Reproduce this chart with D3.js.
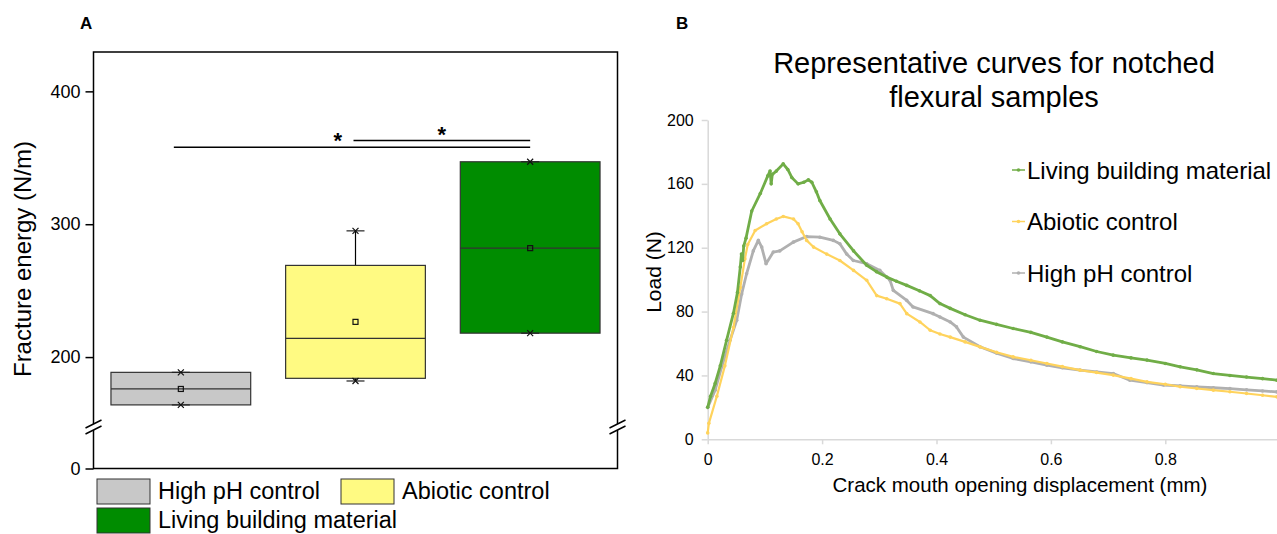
<!DOCTYPE html>
<html>
<head>
<meta charset="utf-8">
<script src="https://cdn.jsdelivr.net/npm/d3@7"></script>
<style>
  body { margin: 0; background: #fff; }
  svg text { font-family: 'Liberation Sans', Arial, sans-serif; }
</style>
</head>
<body>
<div id="chart"></div>
<script>
// ---- Panel A data: fracture energy box plots
var groups = ['High pH control', 'Abiotic control', 'Living building material'];
var boxColors = ['#c8c8c8', '#fffa82', '#008c00'];
var boxQ1 = [164, 184, 218];
var boxMedian = [176, 214, 282];
var boxQ3 = [188.5, 269, 347];
var boxMin = [164, 182, 218];
var boxMax = [188.5, 295, 347];
var boxMean = [176, 226.5, 282];
var yTicksA = [0, 200, 300, 400];
// significance brackets (group index from -> to, level in N/m)
var sigFrom = [0, 1];
var sigTo = [2, 2];
var sigLevel = [358, 363];
var sigStarAt = [0.46, 0.5];

// ---- Panel B data: load vs crack mouth opening displacement
var seriesNames = ['Living building material', 'Abiotic control', 'High pH control'];
var seriesColors = ['#70ad47', '#ffd35c', '#b0b0b0'];
var livingX = [0, 0.005, 0.013, 0.022, 0.033, 0.045, 0.052, 0.057, 0.059, 0.061, 0.063, 0.067, 0.077, 0.092, 0.105, 0.109, 0.111, 0.113, 0.12, 0.132, 0.14, 0.147, 0.158, 0.168, 0.176, 0.182, 0.19, 0.196, 0.214, 0.231, 0.255, 0.278, 0.295, 0.313, 0.33, 0.348, 0.37, 0.389, 0.406, 0.424, 0.45, 0.476, 0.505, 0.534, 0.565, 0.593, 0.62, 0.651, 0.68, 0.709, 0.74, 0.768, 0.8, 0.826, 0.855, 0.884, 0.913, 0.942, 0.97, 0.995];
var livingLoad = [20, 27, 35, 46, 62, 79, 92, 108, 116, 112, 121, 126, 143, 154, 165, 168, 160, 166, 168, 172.5, 169, 164, 160, 161, 162.5, 161, 155, 149.6, 138, 128.7, 118, 109, 105, 101.6, 99, 96.4, 93, 90, 85, 82, 78, 74.6, 72, 69.4, 67, 64, 61, 58, 55, 52.7, 51, 49.6, 47.5, 45.4, 43.5, 41.2, 40, 39, 38, 37];
var abioticX = [0, 0.002, 0.016, 0.03, 0.045, 0.057, 0.065, 0.07, 0.083, 0.103, 0.12, 0.132, 0.15, 0.158, 0.165, 0.173, 0.185, 0.208, 0.231, 0.255, 0.278, 0.2955, 0.313, 0.336, 0.348, 0.371, 0.389, 0.406, 0.424, 0.45, 0.476, 0.505, 0.534, 0.565, 0.593, 0.62, 0.651, 0.68, 0.709, 0.74, 0.768, 0.8, 0.826, 0.855, 0.884, 0.913, 0.942, 0.97, 0.995];
var abioticLoad = [4, 10, 27, 46, 70, 95, 113, 122, 130.8, 135, 138, 139.6, 138, 135, 130, 124.6, 120.4, 116, 112, 105.8, 99.6, 90, 88, 85, 78.7, 73.5, 68.3, 66, 64, 61, 57.9, 54.5, 51.6, 49.5, 47.5, 45.5, 43.3, 41.8, 40.2, 38, 36, 34.5, 32.9, 31.8, 30.8, 29.8, 28.7, 27.6, 26.6];
var highPhX = [0, 0.013, 0.0245, 0.039, 0.0507, 0.0594, 0.068, 0.0797, 0.0885, 0.0944, 0.102, 0.1147, 0.126, 0.1497, 0.173, 0.196, 0.2196, 0.231, 0.243, 0.2546, 0.278, 0.301, 0.3187, 0.3245, 0.348, 0.359, 0.394, 0.406, 0.424, 0.435, 0.447, 0.476, 0.505, 0.534, 0.565, 0.593, 0.62, 0.651, 0.68, 0.709, 0.738, 0.768, 0.797, 0.826, 0.855, 0.884, 0.913, 0.942, 0.97, 0.995];
var highPhLoad = [20, 30.8, 45.4, 62, 74.6, 91, 103.7, 118, 124.6, 120.4, 110, 117.3, 118, 123.5, 127, 126.6, 124.6, 122.5, 116, 112, 110, 105.8, 99.6, 93.3, 87, 82.9, 78.7, 76.6, 73.5, 70.4, 64, 58, 54, 50.6, 48.5, 46.4, 44.8, 43.3, 42.2, 41.2, 37, 35.5, 34, 33.5, 32.9, 32.3, 31.8, 31, 30.3, 29.7];
var xTicksB = [0, 0.2, 0.4, 0.6, 0.8];
var yTicksB = [0, 40, 80, 120, 160, 200];

var W = 1277, H = 534;
var svg = d3.select('#chart').append('svg')
  .attr('width', W)
  .attr('height', H);
svg.append('rect').attr('width', W).attr('height', H).attr('fill', '#fff');

// ================= Panel A =================
var frameA = {left: 93.5, top: 52, right: 617.5, bottom: 468.5};

var xA = d3.scaleBand()
  .domain(d3.range(groups.length))
  .range([frameA.left, frameA.right])
  .paddingInner(0.2)
  .paddingOuter(0.1);
// broken axis: 0 sits below the break, 150..430 is linear
var yA = d3.scaleLinear()
  .domain([0, 150, 430])
  .range([frameA.bottom, 423.5, 51.5]);

svg.append('text')
  .attr('x', 80).attr('y', 29)
  .style('font-size', '17px').style('font-weight', 'bold')
  .text('A');

var gA = svg.append('g');

gA.append('rect')
  .attr('x', frameA.left).attr('y', frameA.top)
  .attr('width', frameA.right - frameA.left)
  .attr('height', frameA.bottom - frameA.top)
  .attr('fill', 'none').attr('stroke', '#000').attr('stroke-width', 1.5);

var axA = gA.append('g')
  .attr('transform', 'translate(' + frameA.left + ',0)')
  .call(d3.axisLeft(yA).tickValues(yTicksA).tickSize(8).tickSizeOuter(0).tickPadding(5));
axA.select('.domain').remove();
axA.selectAll('.tick line').attr('stroke', '#000').attr('stroke-width', 1.5);
axA.selectAll('.tick text').style('font-size', '18px').attr('fill', '#000');

// axis break marks on both sides
var breakY = 427;
[frameA.left, frameA.right].forEach(function(bx) {
  gA.append('rect')
    .attr('x', bx - 3).attr('y', breakY - 3)
    .attr('width', 6).attr('height', 6)
    .attr('fill', '#fff');
  [-3, 3].forEach(function(off) {
    gA.append('line')
      .attr('x1', bx - 8).attr('y1', breakY + off + 4)
      .attr('x2', bx + 8).attr('y2', breakY + off - 4)
      .attr('stroke', '#000').attr('stroke-width', 1.5);
  });
});

svg.append('text')
  .attr('transform', 'translate(22,259) rotate(-90)')
  .attr('text-anchor', 'middle')
  .attr('dominant-baseline', 'central')
  .style('font-size', '24px')
  .text('Fracture energy (N/m)');

// boxes
var boxes = gA.selectAll('.box')
  .data(groups)
  .enter()
  .append('g')
  .attr('class', 'box');

boxes.append('line')
  .attr('x1', (d, i) => xA(i) + xA.bandwidth() / 2)
  .attr('x2', (d, i) => xA(i) + xA.bandwidth() / 2)
  .attr('y1', (d, i) => yA(boxMax[i]))
  .attr('y2', (d, i) => yA(boxMin[i]))
  .attr('stroke', '#000').attr('stroke-width', 1.2);

boxes.append('rect')
  .attr('x', (d, i) => xA(i))
  .attr('width', xA.bandwidth())
  .attr('y', (d, i) => yA(boxQ3[i]))
  .attr('height', (d, i) => yA(boxQ1[i]) - yA(boxQ3[i]))
  .attr('fill', (d, i) => boxColors[i])
  .attr('stroke', '#333').attr('stroke-width', 1.2);

boxes.append('line')
  .attr('x1', (d, i) => xA(i))
  .attr('x2', (d, i) => xA(i) + xA.bandwidth())
  .attr('y1', (d, i) => yA(boxMedian[i]))
  .attr('y2', (d, i) => yA(boxMedian[i]))
  .attr('stroke', '#333').attr('stroke-width', 1.2);

// whisker caps + x markers at min and max
['min', 'max'].forEach(function(k) {
  var vals = k === 'min' ? boxMin : boxMax;
  boxes.append('line')
    .attr('x1', (d, i) => xA(i) + xA.bandwidth() / 2 - 9)
    .attr('x2', (d, i) => xA(i) + xA.bandwidth() / 2 + 9)
    .attr('y1', (d, i) => yA(vals[i]))
    .attr('y2', (d, i) => yA(vals[i]))
    .attr('stroke', '#222').attr('stroke-width', 1.2);
  boxes.append('path')
    .attr('d', (d, i) => {
      var cx = xA(i) + xA.bandwidth() / 2, cy = yA(vals[i]);
      return 'M' + (cx - 3) + ',' + (cy - 3) + 'L' + (cx + 3) + ',' + (cy + 3) +
        'M' + (cx - 3) + ',' + (cy + 3) + 'L' + (cx + 3) + ',' + (cy - 3);
    })
    .attr('stroke', '#111').attr('stroke-width', 1.2);
});

// mean markers
boxes.append('rect')
  .attr('x', (d, i) => xA(i) + xA.bandwidth() / 2 - 2.5)
  .attr('y', (d, i) => yA(boxMean[i]) - 2.5)
  .attr('width', 5).attr('height', 5)
  .attr('fill', 'none').attr('stroke', '#111').attr('stroke-width', 1.2);

// significance brackets
sigFrom.forEach(function(f, k) {
  var x1 = xA(f) + xA.bandwidth() / 2 - (k === 0 ? 7 : 2);
  var x2 = xA(sigTo[k]) + xA.bandwidth() / 2;
  var yy = yA(sigLevel[k]);
  gA.append('line')
    .attr('x1', x1).attr('x2', x2)
    .attr('y1', yy).attr('y2', yy)
    .attr('stroke', '#000').attr('stroke-width', 1.5);
  gA.append('text')
    .attr('x', x1 + (x2 - x1) * sigStarAt[k])
    .attr('y', yy + 1)
    .attr('text-anchor', 'middle')
    .style('font-size', '22px')
    .style('font-weight', 'bold')
    .text('*');
});

// legend A
var legA = svg.append('g');
var legPosA = [[97, 479], [341, 479], [97, 508]];
groups.forEach(function(g, i) {
  legA.append('rect')
    .attr('x', legPosA[i][0]).attr('y', legPosA[i][1])
    .attr('width', 53).attr('height', 25)
    .attr('fill', boxColors[i])
    .attr('stroke', '#333').attr('stroke-width', 1);
  legA.append('text')
    .attr('x', legPosA[i][0] + 61).attr('y', legPosA[i][1] + 20)
    .style('font-size', '23.5px')
    .text(g);
});

// ================= Panel B =================
var xB = d3.scaleLinear().domain([0, 1]).range([707.7, 1279.7]);
var yB = d3.scaleLinear().domain([0, 200]).range([439.3, 120]);

svg.append('text')
  .attr('x', 676).attr('y', 29)
  .style('font-size', '17px').style('font-weight', 'bold')
  .text('B');

svg.append('text')
  .attr('text-anchor', 'middle')
  .style('font-size', '29px')
  .selectAll('tspan')
  .data(['Representative curves for notched', 'flexural samples'])
  .enter()
  .append('tspan')
  .attr('x', 994)
  .attr('y', (d, i) => 73 + i * 34)
  .text((d) => d);

var gB = svg.append('g');

var axYB = gB.append('g')
  .attr('transform', 'translate(' + xB(0) + ',0)')
  .call(d3.axisLeft(yB).tickValues(yTicksB).tickSize(6).tickSizeOuter(0).tickPadding(8));
axYB.select('.domain').attr('stroke', '#d9d9d9').attr('stroke-width', 1.5);
axYB.selectAll('.tick line').attr('stroke', '#d9d9d9').attr('stroke-width', 1.5);
axYB.selectAll('.tick text').style('font-size', '16px').attr('fill', '#000');

var axXB = gB.append('g')
  .attr('transform', 'translate(0,' + yB(0) + ')')
  .call(d3.axisBottom(xB).tickValues(xTicksB).tickFormat((d) => d === 0 ? '0' : d3.format('.1f')(d))
    .tickSize(5).tickSizeOuter(0).tickPadding(9));
axXB.select('.domain').attr('stroke', '#d9d9d9').attr('stroke-width', 1.5);
axXB.selectAll('.tick line').attr('stroke', '#d9d9d9').attr('stroke-width', 1.5);
axXB.selectAll('.tick text').style('font-size', '16px').attr('fill', '#000');

svg.append('text')
  .attr('x', 1020).attr('y', 492)
  .attr('text-anchor', 'middle')
  .style('font-size', '20.5px')
  .text('Crack mouth opening displacement (mm)');

svg.append('text')
  .attr('transform', 'translate(653,272) rotate(-90)')
  .attr('text-anchor', 'middle')
  .attr('dominant-baseline', 'central')
  .style('font-size', '21px')
  .text('Load (N)');

var series = [
  {name: seriesNames[0], color: seriesColors[0], width: 2.8, pts: livingX.map((x, i) => [x, livingLoad[i]])},
  {name: seriesNames[1], color: seriesColors[1], width: 2.2, pts: abioticX.map((x, i) => [x, abioticLoad[i]])},
  {name: seriesNames[2], color: seriesColors[2], width: 2.8, pts: highPhX.map((x, i) => [x, highPhLoad[i]])}
];

var line = d3.line()
  .x((d) => xB(d[0]))
  .y((d) => yB(d[1]));

// draw gray first, green on top
var drawOrder = [2, 1, 0];
drawOrder.forEach(function(k) {
  var s = series[k];
  gB.append('path')
    .datum(s.pts)
    .attr('d', line)
    .attr('fill', 'none')
    .attr('stroke', s.color)
    .attr('stroke-width', s.width)
    .attr('stroke-linejoin', 'round');
  gB.selectAll('.dot' + k)
    .data(s.pts)
    .enter()
    .append('circle')
    .attr('cx', (d) => xB(d[0]))
    .attr('cy', (d) => yB(d[1]))
    .attr('r', 1.8)
    .attr('fill', s.color);
});

// legend B
var legB = svg.append('g');
series.forEach(function(s, i) {
  var cy = 170 + i * 51.5;
  legB.append('line')
    .attr('x1', 1012).attr('x2', 1025)
    .attr('y1', cy).attr('y2', cy)
    .attr('stroke', s.color).attr('stroke-width', 1.5);
  legB.append('circle')
    .attr('cx', 1018.5).attr('cy', cy).attr('r', 1.8)
    .attr('fill', s.color);
  legB.append('text')
    .attr('x', 1027).attr('y', cy)
    .attr('dominant-baseline', 'central')
    .style('font-size', '24px')
    .text(s.name);
});
</script>
</body>
</html>
